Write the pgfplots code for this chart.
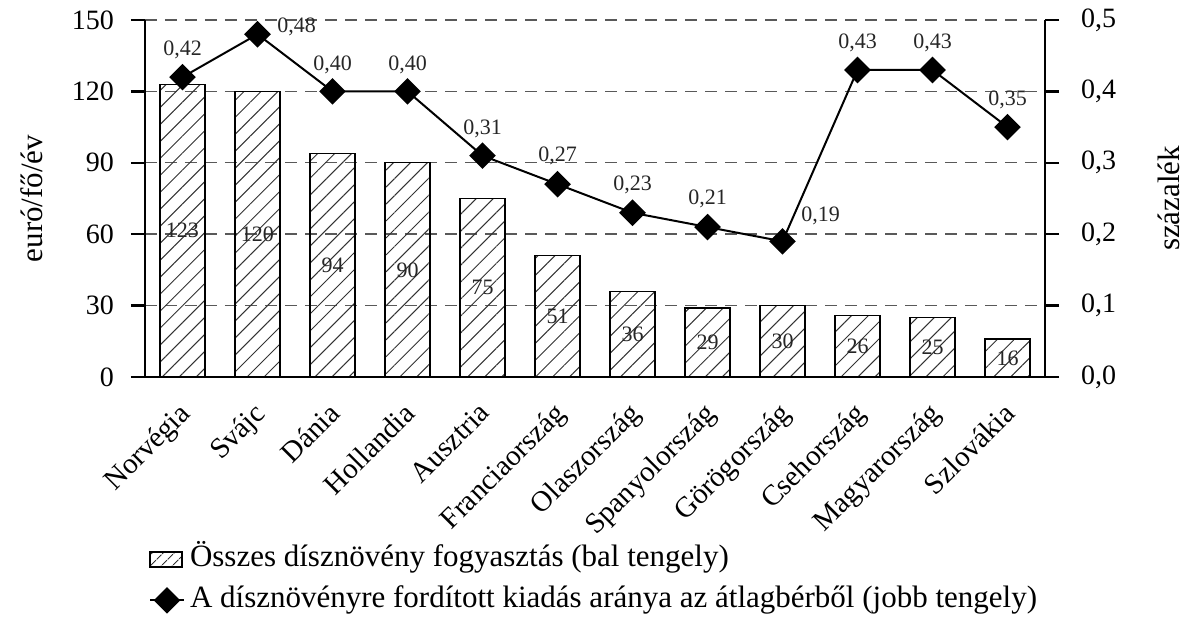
\documentclass[border=0pt]{standalone}
\usepackage{fontspec}
\setmainfont{Liberation Serif}
\usepackage{pgfplots}
\pgfplotsset{compat=1.18}
\usepackage{pgfplotstable}
\usetikzlibrary{patterns.meta}

\pgfplotstableread{
x v
0 123
1 120
2 94
3 90
4 75
5 51
6 36
7 29
8 30
9 26
10 25
11 16
}\bars

\pgfplotstableread{
x r dx dy
0 0.42 0 13.5
1 0.48 19.5 3.5
2 0.40 0 13.5
3 0.40 0 13.5
4 0.31 0 13.5
5 0.27 0 14
6 0.23 0 14
7 0.21 0 14
8 0.19 19 12.5
9 0.43 0 13.5
10 0.43 0 13.5
11 0.35 0 13.5
}\ratio

\newcommand{\bigf}{\fontsize{15.5}{18}\selectfont}
\pgfplotsset{
  /pgf/number format/assume math mode=true,
  common/.style={
    scale only axis, width=450pt, height=178.5pt,
    xmin=-0.5, xmax=11.5, clip=false,
    axis line style={-, line width=1.2pt},
    tick style={line width=1.2pt, black},
    tick align=outside,
    major tick length=7pt,
    tick label style={font=\fontsize{14}{16}\selectfont},
  },
  linelegend/.style={legend image code/.code={\draw[mark repeat=2, mark phase=2, ##1] plot coordinates {(0pt,0pt) (8.5pt,0pt) (17pt,0pt)};}},
}

\begin{document}
\begin{tikzpicture}
\useasboundingbox (-72.5pt,-123.5pt) rectangle (521pt,188.5pt);
\begin{axis}[common,
  ybar, bar width=22.5pt,
  ymin=0, ymax=150, ytick={0,30,60,90,120,150},
  axis x line*=bottom, axis y line*=left,
  xtick={0,...,11},
  xticklabels={Norvégia,Svájc,Dánia,Hollandia,Ausztria,Franciaország,Olaszország,Spanyolország,Görögország,Csehország,Magyarország,Szlovákia},
  x tick style={draw=none},
  minor xtick={-0.5,0.5,...,11.5},
  minor x tick style={line width=1.2pt, black},
  minor tick length=7.5pt,
  xticklabel style={xshift=-2.5pt, rotate=45, anchor=north east, font=\fontsize{14.5}{17}\selectfont},
  yticklabel style={xshift=-5pt},
  ymajorgrids,
  major grid style={dash pattern=on 6pt off 4pt, line width=0.7pt, black!65},
  ylabel style={at={(axis description cs:-0.1256,0.5)}, anchor=center, rotate=0},
  ylabel={\bigf euró/fő/év},
]
\addplot[draw=black, line width=0.6pt,
  pattern={Lines[angle=45, distance=6pt, line width=0.5pt]}, pattern color=black!80,
  nodes near coords,
  visualization depends on={\thisrow{v} \as \bv},
  every node near coord/.append style={anchor=center, yshift={-0.595*\bv*1pt}, font=\fontsize{11}{13}\selectfont, text=black!85},
] table[x=x, y=v] {\bars};
\end{axis}

\begin{axis}[common,
  ymin=0, ymax=0.5, ytick={0,0.1,0.2,0.3,0.4,0.5},
  axis y line*=right, hide x axis,
  yticklabel style={xshift=7.5pt, /pgf/number format/.cd, fixed, fixed zerofill, precision=1, use comma},
  ylabel style={at={(axis description cs:1.138,0.5)}, anchor=center},
  ylabel={\bigf százalék},
  legend style={at={(axis description cs:0.004,-0.458)}, anchor=north west, draw=none, fill=none, inner sep=0pt, font=\bigf, row sep=2pt, legend cell align=left,
    nodes={inner xsep=2.5pt, inner ysep=2pt, text height=11pt, text depth=3.5pt}},
]
\addlegendimage{legend image code/.code={\draw[pattern={Lines[angle=45, distance=4pt, line width=0.5pt]}, pattern color=black!80, draw=black, line width=0.6pt] (0pt,-3.75pt) rectangle (16pt,3.75pt);}}
\addlegendentry{Összes dísznövény fogyasztás (bal tengely)}
\addplot[black, line width=1pt, mark=square*, mark size=4.2pt, mark options={rotate=45, solid},
  nodes near coords,
  point meta=y,
  visualization depends on={\thisrow{dx} \as \dx},
  visualization depends on={\thisrow{dy} \as \dy},
  every node near coord/.append style={anchor=center, xshift=\dx pt, yshift=\dy pt, font=\fontsize{11}{13}\selectfont, text=black!85,
    /pgf/number format/.cd, fixed, fixed zerofill, precision=2, use comma},
  linelegend,
] table[x=x, y=r] {\ratio};
\addlegendentry{A dísznövényre fordított kiadás aránya az átlagbérből (jobb tengely)}
\end{axis}
\end{tikzpicture}
\end{document}
